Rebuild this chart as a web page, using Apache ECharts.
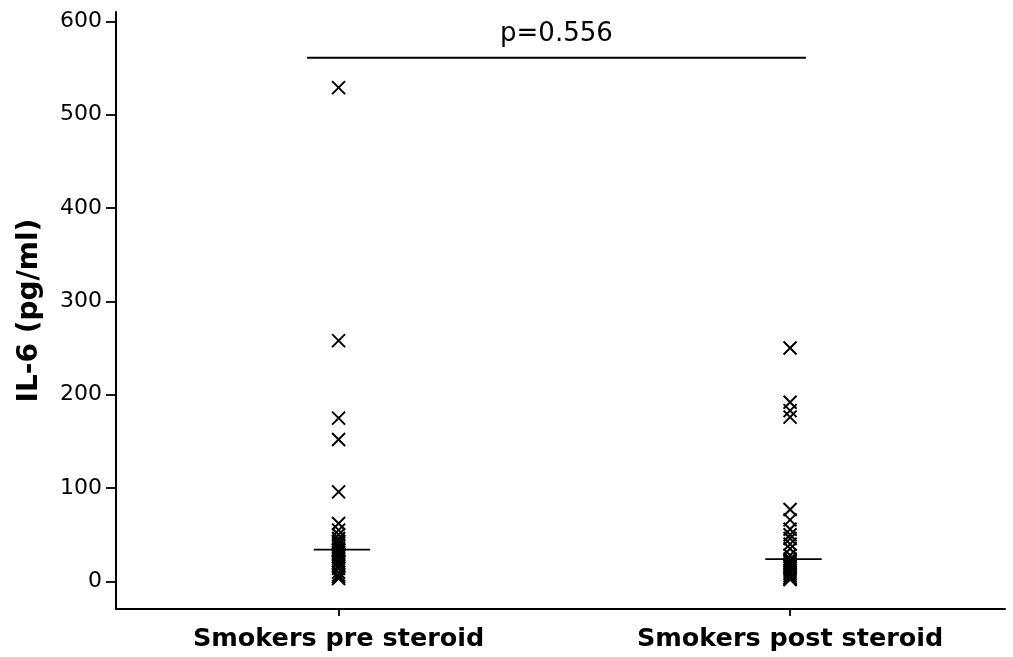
<!DOCTYPE html>
<html>
<head>
<meta charset="utf-8">
<script src="https://cdn.jsdelivr.net/npm/echarts@6/dist/echarts.min.js"></script>
<style>
  html, body { margin: 0; padding: 0; background: #fff; }
  #chart { width: 1013px; height: 657px; }
</style>
</head>
<body>
<div id="chart"></div>
<script>
// Groups and IL-6 measurements (pg/ml)
const categories = ['Smokers pre steroid', 'Smokers post steroid'];
const preSteroid = [529, 258, 175, 152, 96, 62, 55, 50, 46, 43, 41, 39, 36, 34,
                    33, 31, 29, 27, 25, 22, 20, 17, 14, 10, 7, 5, 3];
const postSteroid = [250, 192, 183, 176, 77, 66, 56, 50, 46, 40, 35, 28, 24,
                     22, 20, 18, 16, 14, 12, 10, 8, 6, 4, 3, 2];
const medians = [34, 24];
const yTicks = [0, 100, 200, 300, 400, 500, 600];
const pValueText = 'p=0.556';
const bracketLevel = 561;
const bracketSpan = [0.93, 2.035];

const groups = [preSteroid, postSteroid];
const crossPath = 'path://M0,0L10,10M10,0L0,10';
const black = '#000';
const font = 'DejaVu Sans, Verdana, sans-serif';

const series = [];
groups.forEach((vals, gi) => {
  const xPos = gi + 1;
  series.push({
    type: 'scatter',
    data: vals.map(v => [xPos, v]),
    symbol: crossPath,
    symbolSize: 13,
    itemStyle: { color: 'transparent', borderColor: black, borderWidth: 2, opacity: 1 },
    emphasis: { disabled: true },
    z: 3
  });
  series.push({
    type: 'line',
    data: [[xPos - 0.055, medians[gi]], [xPos + 0.07, medians[gi]]],
    symbol: 'none',
    lineStyle: { color: black, width: 1.8 },
    z: 4
  });
});

// significance bracket with its p-value
series.push({
  type: 'line',
  data: [[bracketSpan[0], bracketLevel], [bracketSpan[1], bracketLevel]],
  symbol: 'none',
  lineStyle: { color: black, width: 2 }
});
series.push({
  type: 'scatter',
  data: [[(bracketSpan[0] + bracketSpan[1]) / 2, bracketLevel]],
  symbolSize: 0,
  itemStyle: { opacity: 1 },
  label: {
    show: true, position: 'top', distance: 10,
    formatter: pValueText, color: black, fontSize: 26, fontFamily: font
  }
});

const chart = echarts.init(document.getElementById('chart'), null, { renderer: 'canvas' });
chart.setOption({
  animation: false,
  backgroundColor: '#fff',
  grid: { left: 116, right: 8, top: 12, bottom: 48, containLabel: false },
  xAxis: {
    type: 'value',
    min: 0.507,
    max: 2.476,
    splitLine: { show: false },
    axisLine: { show: true, onZero: false, lineStyle: { color: black, width: 2 } },
    axisTick: { show: true, length: 7, lineStyle: { color: black, width: 1.8 },
                customValues: [1, 2] },
    axisLabel: {
      customValues: [1, 2],
      formatter: v => categories[Math.round(v) - 1] || '',
      color: black, fontSize: 25.5, fontWeight: 'bold', fontFamily: font, margin: 17
    }
  },
  yAxis: {
    type: 'value',
    min: -29.5,
    max: 610,
    name: 'IL-6 (pg/ml)',
    nameLocation: 'middle',
    nameGap: 72,
    nameTextStyle: { color: black, fontSize: 28, fontWeight: 'bold', fontFamily: font },
    splitLine: { show: false },
    axisLine: { show: true, onZero: false, lineStyle: { color: black, width: 2 } },
    axisTick: { show: true, length: 10, lineStyle: { color: black, width: 1.8 },
                customValues: yTicks },
    axisLabel: {
      customValues: yTicks,
      color: black, fontSize: 22, fontFamily: font, margin: 14
    }
  },
  series: series
});
</script>
</body>
</html>
